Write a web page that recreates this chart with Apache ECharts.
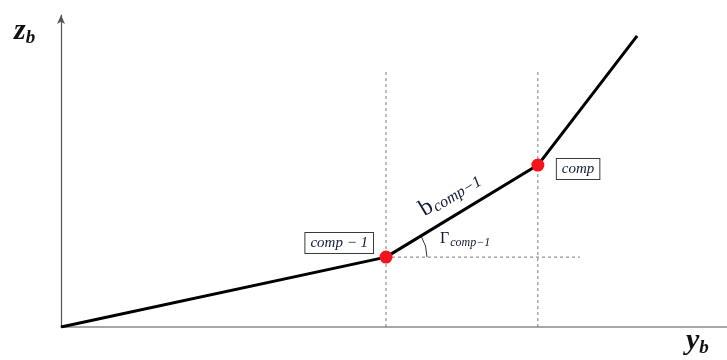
<!DOCTYPE html>
<html>
<head>
<meta charset="utf-8">
<script src="https://cdn.jsdelivr.net/npm/echarts@6/dist/echarts.min.js"></script>
<style>
  html, body { margin: 0; padding: 0; background: #fff; }
  #chart { width: 727px; height: 360px; }
</style>
</head>
<body>
<div id="chart"></div>
<script>
// Piecewise-linear relation z_b(y_b) with two breakpoints
const curveX = [0, 4.88, 7.16, 8.65];
const curveY = [0, 2.24, 5.19, 9.33];

// Breakpoints and their labels
const breakX = [4.88, 7.16];
const breakY = [2.24, 5.19];
const breakLabels = ['comp \u2212 1', 'comp'];

// Guide lines
const guideTop = 8.24;
const guideRight = 7.79;

const axisMax = { x: 10, y: 10 };

const chart = echarts.init(document.getElementById('chart'));
const serif = '"Liberation Serif", "DejaVu Serif", serif';

const curve = curveX.map((x, i) => [x, curveY[i]]);
const points = breakX.map((x, i) => [x, breakY[i]]);

chart.setOption({
  animation: false,
  grid: { left: 61, right: 0, top: 15, bottom: 33 },
  xAxis: {
    type: 'value', min: 0, max: axisMax.x,
    axisLine: { show: true, onZero: false, lineStyle: { color: '#8a8a8a', width: 1.5 } },
    axisTick: { show: false }, axisLabel: { show: false }, splitLine: { show: false }
  },
  yAxis: {
    type: 'value', min: 0, max: axisMax.y,
    axisLine: { show: true, onZero: false, symbol: ['none', 'arrow'], symbolSize: [6, 9],
      symbolOffset: [0, 0], lineStyle: { color: '#555', width: 1.2 } },
    axisTick: { show: false }, axisLabel: { show: false }, splitLine: { show: false }
  },
  series: [
    // vertical guides at each breakpoint
    ...breakX.map(x => ({
      type: 'line', data: [[x, 0], [x, guideTop]], symbol: 'none', silent: true,
      lineStyle: { color: '#7a7a7a', width: 1, type: [3, 3] }
    })),
    // horizontal guide through the first breakpoint
    {
      type: 'line', data: [[breakX[0], breakY[0]], [guideRight, breakY[0]]], symbol: 'none', silent: true,
      lineStyle: { color: '#7a7a7a', width: 1, type: [3, 3] }
    },
    {
      type: 'line', data: curve, symbol: 'none', z: 5,
      lineStyle: { color: '#000', width: 3 }
    },
    {
      type: 'scatter', data: points, symbolSize: 13, z: 6,
      itemStyle: { color: '#f5141c', opacity: 1 },
      label: {
        show: true,
        formatter: p => breakLabels[p.dataIndex],
        fontFamily: serif, fontStyle: 'italic', fontSize: 15, color: '#111a38',
        borderColor: '#3a3a3a', borderWidth: 1, backgroundColor: '#fff',
        padding: [3, 5, 2, 5]
      },
      labelLayout: p => p.dataIndex === 0
        ? { dx: -(p.labelRect.width / 2 + 12), dy: -14 }
        : { dx: p.labelRect.width / 2 + 18, dy: 4 },
      emphasis: { disabled: true }
    }
  ]
});

// Annotations tied to the curve's pixel positions
const p1 = chart.convertToPixel({ gridIndex: 0 }, points[0]);
const p2 = chart.convertToPixel({ gridIndex: 0 }, points[1]);
const theta = Math.atan2(p1[1] - p2[1], p2[0] - p1[0]);
const mid = [(p1[0] + p2[0]) / 2, (p1[1] + p2[1]) / 2];
const off = 20;

chart.setOption({
  graphic: [
    {
      type: 'text', left: 14, top: 16,
      style: {
        text: '{z|z}{s|b}', rich: {
          z: { fontFamily: serif, fontStyle: 'italic', fontWeight: 'bold', fontSize: 30, fill: '#111' },
          s: { fontFamily: serif, fontStyle: 'italic', fontWeight: 'bold', fontSize: 19, fill: '#111', padding: [14, 0, 0, 0] }
        }
      }
    },
    {
      type: 'text', left: 686, top: 326,
      style: {
        text: '{z|y}{s|b}', rich: {
          z: { fontFamily: serif, fontStyle: 'italic', fontWeight: 'bold', fontSize: 30, fill: '#111' },
          s: { fontFamily: serif, fontStyle: 'italic', fontWeight: 'bold', fontSize: 19, fill: '#111', padding: [14, 0, 0, 0] }
        }
      }
    },
    {
      type: 'text',
      x: mid[0] - off * Math.sin(theta) - 2, y: mid[1] - off * Math.cos(theta),
      rotation: theta,
      style: {
        text: '{b|b}{s|comp\u22121}', align: 'center', verticalAlign: 'middle',
        rich: {
          b: { fontFamily: serif, fontSize: 24, fill: '#111a38' },
          s: { fontFamily: serif, fontStyle: 'italic', fontSize: 16, fill: '#111a38', padding: [9, 0, 0, 1] }
        }
      }
    },
    {
      type: 'text', x: p1[0] + 54, y: p1[1] - 18,
      style: {
        text: '{g|\u0393}{s|comp\u22121}', verticalAlign: 'middle',
        rich: {
          g: { fontFamily: serif, fontSize: 16, fill: '#111a38' },
          s: { fontFamily: serif, fontStyle: 'italic', fontSize: 12, fill: '#111a38', padding: [7, 0, 0, 1] }
        }
      }
    },
    {
      type: 'arc', z: 4,
      shape: { cx: p1[0], cy: p1[1], r: 41, startAngle: -theta, endAngle: 0, clockwise: true },
      style: { stroke: '#333', fill: null, lineWidth: 1 }
    }
  ]
});
</script>
</body>
</html>
